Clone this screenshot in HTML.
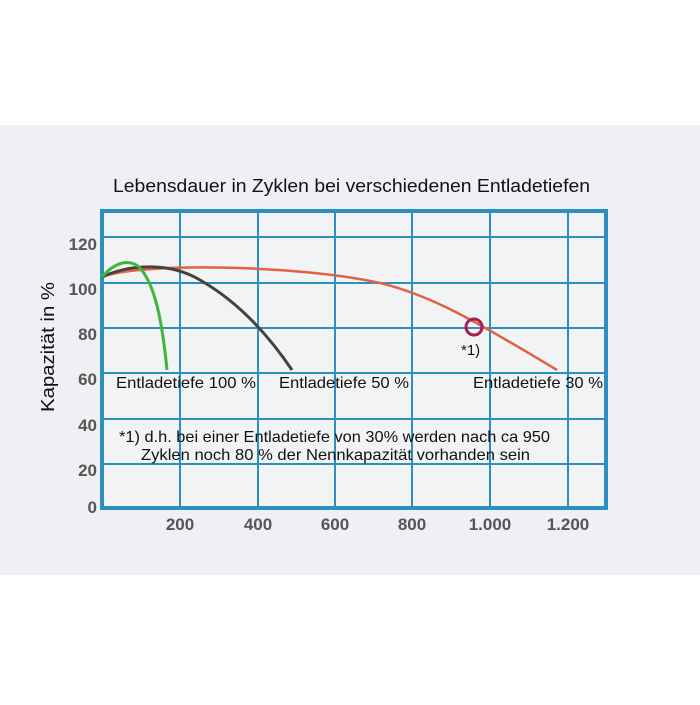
<!DOCTYPE html>
<html><head><style>
body{margin:0;background:#fff;}
</style></head><body>
<svg width="700" height="700" xmlns="http://www.w3.org/2000/svg" font-family="Liberation Sans, sans-serif">
<rect x="0" y="0" width="700" height="700" fill="#fff"/>
<rect x="0" y="125" width="700" height="450" fill="#eef0f3"/>
<rect x="102" y="211" width="504" height="297" fill="#f2f3f5"/>
<text x="113" y="192" font-size="18.5" textLength="477" lengthAdjust="spacingAndGlyphs" fill="#111">Lebensdauer in Zyklen bei verschiedenen Entladetiefen</text>
<g stroke="#2b8fc0" stroke-width="2" fill="none">
<line x1="180" y1="211" x2="180" y2="508"/>
<line x1="258" y1="211" x2="258" y2="508"/>
<line x1="335" y1="211" x2="335" y2="508"/>
<line x1="412" y1="211" x2="412" y2="508"/>
<line x1="490" y1="211" x2="490" y2="508"/>
<line x1="568" y1="211" x2="568" y2="508"/>
<line x1="102" y1="237" x2="606" y2="237"/>
<line x1="102" y1="283" x2="606" y2="283"/>
<line x1="102" y1="328" x2="606" y2="328"/>
<line x1="102" y1="373" x2="606" y2="373"/>
<line x1="102" y1="419" x2="606" y2="419"/>
<line x1="102" y1="464" x2="606" y2="464"/>
<rect x="102" y="211" width="504" height="297" stroke-width="4"/>
</g>
<g fill="none" stroke-width="3">
<path d="M102,277 C140,262 300,265 380,283 C430,295 470,318 557,370" stroke="#e0623e" stroke-width="2.5"/>
<path d="M102,277 C130,264 170,262 200,280 C235,300 265,330 292,370" stroke="#4a4040"/>
<path d="M102,277 C115,262 130,258 140,268 C155,285 162,320 167,370" stroke="#3fb63a"/>
</g>
<circle cx="474" cy="327" r="8" fill="none" stroke="#a5204e" stroke-width="3"/>
<text x="461" y="355" font-size="15" fill="#111">*1)</text>
<g font-size="16" fill="#111">
<text x="116" y="388" textLength="140" lengthAdjust="spacingAndGlyphs">Entladetiefe 100 %</text>
<text x="279" y="388" textLength="130" lengthAdjust="spacingAndGlyphs">Entladetiefe 50 %</text>
<text x="473" y="388" textLength="130" lengthAdjust="spacingAndGlyphs">Entladetiefe 30 %</text>
<text x="119" y="442" textLength="431" lengthAdjust="spacingAndGlyphs">*1) d.h. bei einer Entladetiefe von 30% werden nach ca 950</text>
<text x="141" y="460" textLength="389" lengthAdjust="spacingAndGlyphs">Zyklen noch 80 % der Nennkapazität vorhanden sein</text>
</g>
<g font-size="17" font-weight="bold" fill="#555" text-anchor="end">
<text x="97" y="250">120</text>
<text x="97" y="295">100</text>
<text x="97" y="340">80</text>
<text x="97" y="385">60</text>
<text x="97" y="431">40</text>
<text x="97" y="476">20</text>
<text x="97" y="513">0</text>
</g>
<g font-size="17" font-weight="bold" fill="#555" text-anchor="middle">
<text x="180" y="530">200</text>
<text x="258" y="530">400</text>
<text x="335" y="530">600</text>
<text x="412" y="530">800</text>
<text x="490" y="530">1.000</text>
<text x="568" y="530">1.200</text>
</g>
<text transform="translate(54,347) rotate(-90)" font-size="18" text-anchor="middle" textLength="130" lengthAdjust="spacingAndGlyphs" fill="#111">Kapazität in %</text>
</svg>
</body></html>
